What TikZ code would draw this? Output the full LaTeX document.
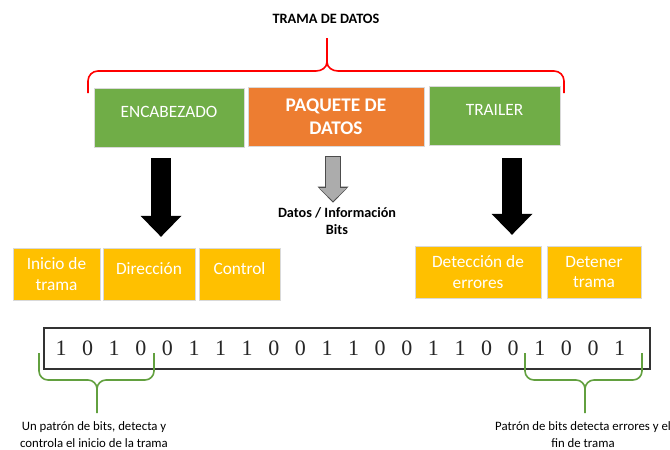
\documentclass[tikz,border=0pt]{standalone}
\usepackage{fontspec}
\newfontfamily\calfont{Carlito}
\newfontfamily\bitfont{Liberation Serif}
\usetikzlibrary{arrows.meta}

\definecolor{boxgreen}{HTML}{70AD47}
\definecolor{boxorange}{HTML}{ED7D31}
\definecolor{boxyellow}{HTML}{FFC000}
\definecolor{bracegreen}{HTML}{62A03F}

\tikzstyle{block} = [rectangle,draw=white!85!black,thin,text=white,align=center,inner sep=0pt,font=\calfont\fontsize{17.3}{20.5}\selectfont]
\tikzstyle{oneline} = [text height=10pt,text depth=10pt]
\tikzstyle{twoline} = []
\tikzstyle{boldline} = [font=\calfont\bfseries\fontsize{19.3}{23}\selectfont]
\tikzstyle{title} = [font=\calfont\bfseries\fontsize{14.3}{16}\selectfont]
\tikzstyle{info} = [align=center,font=\calfont\bfseries\fontsize{14.2}{17.5}\selectfont]
\tikzstyle{note} = [align=center,font=\calfont\fontsize{12.8}{17}\selectfont]
\tikzstyle{bitbox} = [rectangle,draw=black!80,line width=1.1pt,minimum width=606pt,minimum height=41pt,inner sep=0pt]
\tikzstyle{bit} = [font=\bitfont\fontsize{22}{22}\selectfont,inner sep=0pt,text=black!85]
\tikzstyle{bigarrow} = [line width=20pt,-{Triangle[width=41pt,length=21pt,line width=0pt]}]
\tikzstyle{rbrace} = [draw,red,line width=1.6pt]
\tikzstyle{gbrace} = [draw,bracegreen,line width=1.6pt]

\begin{document}
\begin{tikzpicture}[x=1pt,y=-1pt]
      \useasboundingbox (0,0) rectangle (670,450);
      %nodes
      \node[title] (title) at (326,19) {TRAMA DE DATOS};
      \foreach \nodename/\x/\y/\w/\h/\fillc/\kind/\txt in {
        enc/169/117.5/150/59/boxgreen/oneline/ENCABEZADO,
        paq/336/116.5/176/59/boxorange/boldline/PAQUETE DE\\DATOS,
        trl/494.5/115.5/131/59/boxgreen/oneline/TRAILER,
        ini/56.5/274/87/52/boxyellow/twoline/Inicio de\\trama,
        dir/149/274/92/52/boxyellow/oneline/Dirección,
        ctl/239.5/274/81/52/boxyellow/oneline/Control,
        det/478/272/126/52/boxyellow/twoline/Detección de\\errores,
        dtn/594/272/94/52/boxyellow/twoline/Detener\\trama}
      {
        \node[block, \kind, fill=\fillc, minimum width=\w pt, minimum height=\h pt] (\nodename) at (\x,\y) {\txt};
      };
      \node[info] (info) at (337,221) {Datos / Información\\Bits};

      %bits
      \node[bitbox] (bits) at (347,348.5) {};
      \foreach \b [count=\i from 0] in {1,0,1,0,0,1,1,1,0,0,1,1,0,0,1,1,0,0,1,0,0,1}
      {
        \node[bit] (b\i) at ({61+26.6*\i},348) {\b};
      };
      \node[note] (lnote) at (94,434.5) {Un patrón de bits, detecta y\\controla el inicio de la trama};
      \node[note] (rnote) at (583,434.5) {Patrón de bits detecta errores y el\\fin de trama};

      %arrows
      \draw[bigarrow, shorten <=11pt, shorten >=11pt] ([xshift=-8pt]enc.south) -- ([xshift=-8pt]enc.south |- dir.north);
      \draw[bigarrow, shorten <=13pt, shorten >=11pt] ([xshift=17.5pt]trl.south) -- ([xshift=17.5pt]trl.south |- det.north);
      \draw[line width=16.5pt, black!70, -{Triangle[width=31pt,length=16pt,line width=0pt]}, shorten <=10pt, shorten >=1pt] ([xshift=-3pt]paq.south) -- ([xshift=-3pt]paq.south |- info.north);
      \draw[line width=14pt, gray!65, -{Triangle[width=27pt,length=13pt,line width=0pt]}, shorten <=11pt, shorten >=2.6pt] ([xshift=-3pt]paq.south) -- ([xshift=-3pt]paq.south |- info.north);

      %braces
      \path[rbrace] (88,93) -- (88,81) to[out=90,in=180] (98,71) -- (316,71) to[out=0,in=-90] (327,62) -- (327,38);
      \path[rbrace] (564,93) -- (564,81) to[out=90,in=0] (554,71) -- (338,71) to[out=180,in=-90] (327,62);
      \foreach \l/\m/\r in {39/97/154, 525/585/642}
      {
        \path[gbrace] (\l,353) -- (\l,371) to[out=-90,in=180] (\l+9,380) -- (\m-9,380) to[out=0,in=90] (\m,389) -- (\m,413);
        \path[gbrace] (\r,353) -- (\r,371) to[out=-90,in=0] (\r-9,380) -- (\m+9,380) to[out=180,in=90] (\m,389);
      };
    \end{tikzpicture}
\end{document}
